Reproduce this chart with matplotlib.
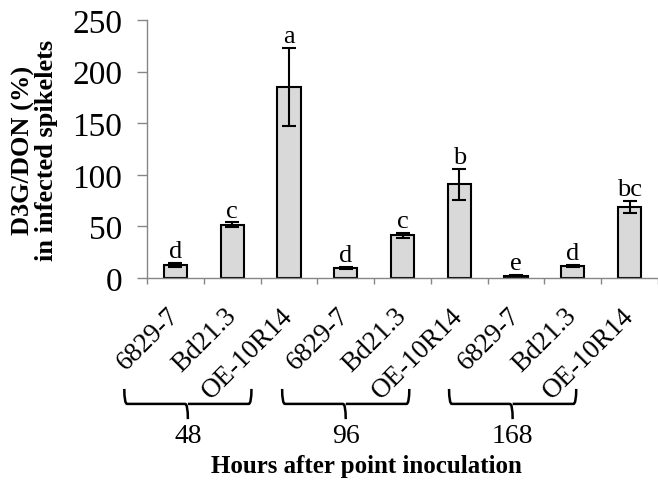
import matplotlib.pyplot as plt
from matplotlib.path import Path
from matplotlib.patches import PathPatch
import matplotlib.transforms as mtransforms

# Values
lines = ["6829-7", "Bd21.3", "OE-10R14"]
hours = ["48", "96", "168"]
ratio = [13, 51.5, 185, 10, 41.5, 91, 2.3, 12, 69]
err = [2, 2.5, 38, 1, 2.5, 15, 0.6, 1, 6]
letters = ["d", "c", "a", "d", "c", "b", "e", "d", "bc"]

plt.rcParams["font.family"] = ["Liberation Serif", "DejaVu Serif"]

fig = plt.figure(figsize=(6.58, 4.85), dpi=100)
ax = fig.add_axes([147 / 658, 1 - 279 / 485, 1 - 147 / 658, 258 / 485])

labels = [c for h in hours for c in lines]
x = list(range(len(labels)))
ax.bar(x, ratio, width=0.41, color="#d9d9d9", edgecolor="black", linewidth=1.5,
       yerr=err, error_kw=dict(ecolor="black", elinewidth=1.5, capsize=5, capthick=1.5))

for xi, v, e, s in zip(x, ratio, err, letters):
    ax.annotate(s, (xi, v + e), xytext=(0, 4), textcoords="offset points",
                ha="center", va="baseline", fontsize=19)

ax.set_xlim(-0.5, len(labels) - 0.5)
ax.set_ylim(0, 250)
ax.set_yticks([0, 50, 100, 150, 200, 250])
ax.tick_params(axis="y", labelsize=24, length=7, width=1, color="#868686", pad=11)

ax.set_xticks(x)
ax.set_xticklabels(labels, rotation=45, ha="right", va="center",
                   rotation_mode="anchor", fontsize=19.5)
shift = mtransforms.ScaledTranslation(0.10, 0, fig.dpi_scale_trans)
for lab in ax.get_xticklabels():
    lab.set_transform(lab.get_transform() + shift)
ax.set_xticks([i + 0.5 for i in range(-1, len(labels))], minor=True)
ax.tick_params(axis="x", which="major", length=0, pad=24)
ax.tick_params(axis="x", which="minor", length=4, width=1, color="#868686")

for side in ["top", "right"]:
    ax.spines[side].set_visible(False)
for side in ["left", "bottom"]:
    ax.spines[side].set_color("#868686")
    ax.spines[side].set_linewidth(1)

# group braces under the rotated labels
trans = mtransforms.blended_transform_factory(ax.transData, ax.transAxes)
centers = [0.22, 3.0, 5.94]
half = 1.12
y_top, y_mid, y_tip = -0.43, -0.488, -0.547
for c, h in zip(centers, hours):
    l, r = c - half, c + half
    verts = [(l, y_top), (l, y_mid), (l + 0.05, y_mid), (c - 0.05, y_mid),
             (c, y_mid), (c, y_tip),
             (c, y_mid), (c + 0.05, y_mid), (r - 0.05, y_mid), (r, y_mid), (r, y_top)]
    codes = [Path.MOVETO, Path.CURVE3, Path.CURVE3, Path.LINETO,
             Path.CURVE3, Path.LINETO,
             Path.MOVETO, Path.CURVE3, Path.LINETO, Path.CURVE3, Path.CURVE3]
    ax.add_patch(PathPatch(Path(verts, codes), transform=trans, fill=False,
                           edgecolor="black", linewidth=1.8, clip_on=False))
    ax.text(c, -0.612, h, transform=trans, ha="center", va="center", fontsize=20)

fig.text(366 / 658, 1 - 467 / 485, "Hours after point inoculation",
         ha="center", va="center", fontsize=18, fontweight="bold")
fig.text(35 / 658, 1 - 150 / 485, "D3G/DON (%)\nin infected spikelets",
         ha="center", va="center", rotation=90, fontsize=19, fontweight="bold",
         multialignment="center", linespacing=1.0)

fig.savefig("out.png", dpi=100)
